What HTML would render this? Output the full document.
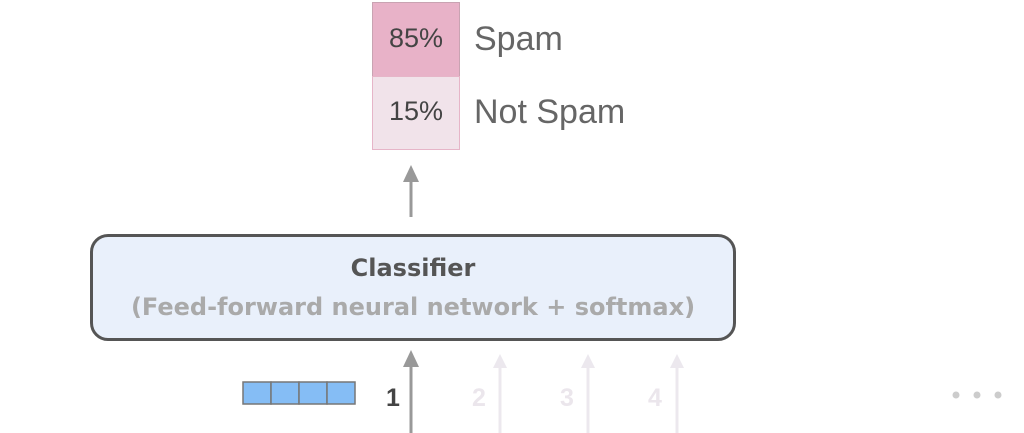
<!DOCTYPE html>
<html><head><style>
body{margin:0;width:1024px;height:433px;background:#fff;position:relative;overflow:hidden;font-family:"Liberation Sans",sans-serif}
.a{position:absolute}
</style></head><body>
<div class="a" style="left:372px;top:2px;width:86px;height:73px;background:#e8b2c8;border:1px solid #c9a3b2;"></div>
<div class="a" style="left:372px;top:76px;width:86px;height:72px;background:#f1e3ea;border:1px solid #e6b5c8;"></div>
<div class="a" style="left:372px;top:23px;width:88px;text-align:center;font-size:27px;color:#444;">85%</div>
<div class="a" style="left:372px;top:96px;width:88px;text-align:center;font-size:27px;color:#444;">15%</div>
<div class="a" style="left:474px;top:20px;font-size:34px;color:#666;">Spam</div>
<div class="a" style="left:474px;top:93px;font-size:34px;color:#666;">Not Spam</div>
<div class="a" style="left:90px;top:234px;width:640px;height:101px;border:3px solid #555;border-radius:18px;background:#e9f0fb;"></div>
<div class="a" style="left:90px;top:254px;width:646px;text-align:center;font-size:24px;font-weight:bold;color:#555;font-family:'DejaVu Sans',sans-serif;">Classifier</div>
<div class="a" style="left:90px;top:293px;width:646px;text-align:center;font-size:24px;font-weight:bold;color:#aaa;font-family:'DejaVu Sans',sans-serif;">(Feed-forward neural network + softmax)</div>
<svg class="a" style="left:0;top:0" width="1024" height="433">
<g fill="#999" stroke="#999">
<line x1="411" y1="180" x2="411" y2="217" stroke-width="3"/><polygon points="403,182 419,182 411,165" stroke="none"/>
<line x1="411" y1="365" x2="411" y2="433" stroke-width="3"/><polygon points="403,367 419,367 411,350" stroke="none"/>
</g>
<g fill="#ece8ee" stroke="#ece8ee">
<line x1="500" y1="365" x2="500" y2="433" stroke-width="3"/><polygon points="493,368 507,368 500,354" stroke="none"/>
<line x1="588" y1="365" x2="588" y2="433" stroke-width="3"/><polygon points="581,368 595,368 588,354" stroke="none"/>
<line x1="677" y1="365" x2="677" y2="433" stroke-width="3"/><polygon points="670,368 684,368 677,354" stroke="none"/>
</g>
<g fill="#85bdf5" stroke="#777" stroke-width="1.5">
<rect x="243" y="382" width="28" height="22"/><rect x="271" y="382" width="28" height="22"/><rect x="299" y="382" width="28" height="22"/><rect x="327" y="382" width="28" height="22"/>
</g>
<g font-family="Liberation Sans" font-size="25" font-weight="bold">
<text x="386" y="406" fill="#444">1</text>
<text x="472" y="406" fill="#ebe6ec">2</text>
<text x="560" y="406" fill="#ebe6ec">3</text>
<text x="648" y="406" fill="#ebe6ec">4</text>
</g>
<g fill="#ccc"><circle cx="956" cy="395" r="3.5"/><circle cx="977" cy="395" r="3.5"/><circle cx="998" cy="395" r="3.5"/></g>
</svg>
</body></html>
